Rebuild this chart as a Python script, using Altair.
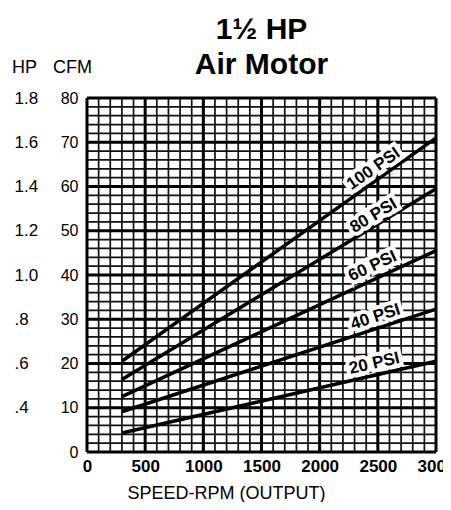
import altair as alt
import pandas as pd

FONT = "Liberation Sans"

# ---- data ----
rpm_points = [300, 3000]
psi_100 = [20.5, 71.0]
psi_80 = [16.4, 59.5]
psi_60 = [12.5, 45.5]
psi_40 = [9.1, 32.3]
psi_20 = [4.3, 20.5]

series_names = ["100 PSI", "80 PSI", "60 PSI", "40 PSI", "20 PSI"]
label_rpm = [2463, 2463, 2455, 2480, 2470]
label_cfm = [64.0, 53.4, 42.0, 30.5, 20.0]
label_angle = [325, 329, 335, 342, 347]

x_ticks = [0, 500, 1000, 1500, 2000, 2500, 3000]
cfm_ticks = [0, 10, 20, 30, 40, 50, 60, 70, 80]
hp_cfm = [80, 70, 60, 50, 40, 30, 20, 10]
hp_labels = ["1.8", "1.6", "1.4", "1.2", "1.0", ".8", ".6", ".4"]

minor_x = list(range(0, 3001, 100))
major_x = x_ticks
minor_y = list(range(0, 81, 2))
major_y = cfm_ticks

# ---- tables ----
series_vals = [psi_100, psi_80, psi_60, psi_40, psi_20]
lines_df = pd.DataFrame(
    [{"series": n, "rpm": r, "cfm": v}
     for n, vals in zip(series_names, series_vals)
     for r, v in zip(rpm_points, vals)]
)
labels_df = pd.DataFrame({"series": series_names, "rpm": label_rpm,
                          "cfm": label_cfm, "angle": label_angle})
hp_df = pd.DataFrame({"cfm": hp_cfm, "hp": hp_labels})

xs = alt.Scale(domain=[0, 3000], nice=False, zero=False)
ys = alt.Scale(domain=[0, 80], nice=False, zero=False)

x_axis = alt.Axis(values=x_ticks, format="d", ticks=False, domain=False, grid=False,
                  labelFontSize=17, labelFontWeight="bold", labelFont=FONT,
                  labelColor="black", labelPadding=6, labelFlush=False,
                  title="SPEED-RPM (OUTPUT)", titleFont=FONT, titleFontSize=18,
                  titleFontWeight="normal", titleColor="black",
                  titleX=139, titleY=46, titleBaseline="alphabetic",
                  titleAlign="center")
cfm_axis = alt.Axis(values=cfm_ticks, format="d", ticks=False, domain=False, grid=False,
                    labelFontSize=16, labelFont=FONT, labelColor="black",
                    labelAlign="right", labelPadding=9,
                    title="CFM", titleAngle=0, titleFont=FONT, titleFontSize=18,
                    titleFontWeight="normal", titleColor="black",
                    titleX=-15, titleY=-26, titleAlign="center",
                    titleBaseline="alphabetic")

expr = "''"
for c, h in reversed(list(zip(hp_cfm, hp_labels))):
    expr = f"datum.value == {c} ? '{h}' : ({expr})"

hp_axis = alt.Axis(orient="left", values=hp_cfm, labelExpr=expr, ticks=False,
                   domain=False, grid=False, labelFontSize=17, labelFont=FONT,
                   labelColor="black", labelAlign="left", labelPadding=73,
                   title="HP", titleAngle=0, titleFont=FONT, titleFontSize=18,
                   titleFontWeight="normal", titleColor="black",
                   titleX=-63, titleY=-26, titleAlign="center",
                   titleBaseline="alphabetic")

X = alt.X("rpm:Q", scale=xs, axis=x_axis)
Y = alt.Y("cfm:Q", scale=ys, axis=cfm_axis)

minor_v = alt.Chart(pd.DataFrame({"rpm": minor_x})).mark_rule(
    color="#111111", strokeWidth=1.7).encode(x=X)
minor_h = alt.Chart(pd.DataFrame({"cfm": minor_y})).mark_rule(
    color="#111111", strokeWidth=1.7).encode(y=Y)
major_v = alt.Chart(pd.DataFrame({"rpm": major_x})).mark_rule(
    color="black", strokeWidth=3).encode(x=X)
major_h = alt.Chart(pd.DataFrame({"cfm": major_y})).mark_rule(
    color="black", strokeWidth=3).encode(y=Y)

lines = alt.Chart(lines_df).mark_line(color="black", strokeWidth=3.5).encode(
    x=X, y=Y, detail="series:N")

halo = alt.Chart(labels_df).mark_text(
    font=FONT, fontSize=17, fontWeight="bold", fill="white", stroke="white",
    strokeWidth=8, strokeJoin="miter").encode(
    x=X, y=Y, text="series:N", angle=alt.Angle("angle:Q", scale=None))
texts = alt.Chart(labels_df).mark_text(
    font=FONT, fontSize=17, fontWeight="bold", color="black").encode(
    x=X, y=Y, text="series:N", angle=alt.Angle("angle:Q", scale=None))

main = alt.layer(minor_v, minor_h, major_v, major_h, lines, halo, texts)

hp_layer = alt.Chart(hp_df).mark_point(opacity=0).encode(
    y=alt.Y("cfm:Q", scale=ys, axis=hp_axis))

chart = alt.layer(main, hp_layer).resolve_scale(y="independent").properties(
    width=349, height=354,
    autosize=alt.AutoSizeParams(type="none"),
    padding={"left": 79, "top": 90, "right": 7, "bottom": 50},
    title=alt.TitleParams(text=["1½ HP", "Air Motor"], font=FONT, fontSize=30,
                          fontWeight="bold", lineHeight=35, anchor="middle",
                          frame="group", baseline="bottom", offset=-52,
                          color="black"),
).configure_view(stroke=None).configure(background="white")

chart.save("out.html", embed_options={"renderer": "svg", "actions": False})
